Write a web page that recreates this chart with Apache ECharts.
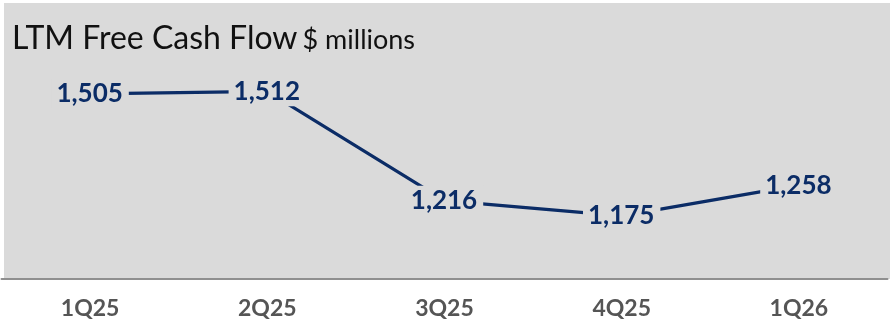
<!DOCTYPE html>
<html><head><meta charset="utf-8">
<script src="https://cdn.jsdelivr.net/npm/echarts@6/dist/echarts.min.js"></script>
<style>html,body{margin:0;padding:0;background:#fff}#c{width:892px;height:328px}</style>
</head><body><div id="c"></div>
<script>
const categories = ['1Q25','2Q25','3Q25','4Q25','1Q26'];
const fcf = [1505, 1512, 1216, 1175, 1258];
const titleMain = 'LTM Free Cash Flow';
const titleUnit = '$ millions';

const BG = '#dadada';
const NAVY = '#0b2c66';
const chart = echarts.init(document.getElementById('c'), null, {renderer:'canvas'});
chart.setOption({
  backgroundColor: '#ffffff',
  animation: false,
  graphic: [{
    type: 'rect', z: -10, silent: true,
    shape: {x: 4, y: 3, width: 886, height: 276},
    style: {fill: BG}
  }],
  title: {
    left: 7, top: 18,
    text: '{a|' + titleMain + '} {b|' + titleUnit + '}',
    textStyle: {
      rich: {
        a: {fontFamily: 'Lato', fontSize: 32, color: '#111', fontWeight: 'normal'},
        b: {fontFamily: 'Lato', fontSize: 27, color: '#111', fontWeight: 'normal', padding:[3,0,0,0]}
      }
    }
  },
  grid: {left: 1.5, right: 4.5, top: 0, bottom: 49, containLabel: false, outerBoundsMode: 'none'},
  xAxis: {
    type: 'category', data: categories, boundaryGap: true,
    axisLine: {show: true, lineStyle: {color: '#8f8f8f', width: 2}},
    axisTick: {show: false},
    axisLabel: {margin: 18, padding: [0, 0, 0, 0], verticalAlign: 'top', color: '#555555', fontFamily: 'Lato', fontWeight: 'bold', fontSize: 23}
  },
  yAxis: {
    type: 'value', min: 1004, max: 1759, show: false,
    splitLine: {show: false}
  },
  series: [{
    type: 'line', data: fcf,
    symbol: 'circle', symbolSize: 1, showSymbol: true,
    itemStyle: {color: NAVY, opacity: 0},
    lineStyle: {color: NAVY, width: 3.2},
    label: {
      show: true, position: 'inside',
      formatter: p => p.value.toLocaleString('en-US'),
      fontFamily: 'Lato', fontWeight: 'bold', fontSize: 26, color: NAVY, opacity: 1,
      backgroundColor: BG, padding: [2, 6, 2, 5]
    }
  }]
});
</script></body></html>
